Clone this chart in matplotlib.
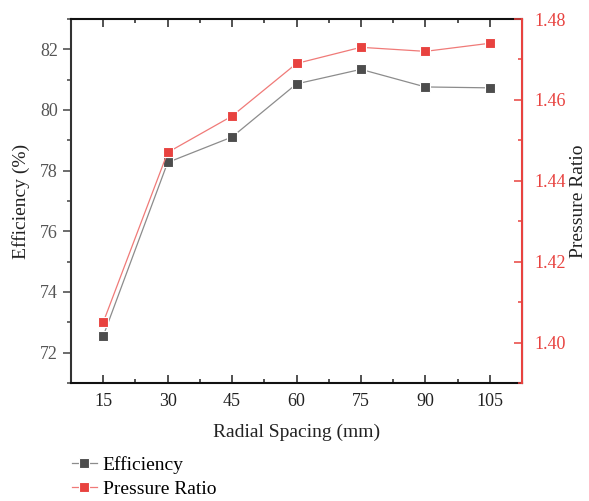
import matplotlib
matplotlib.use("Agg")
import matplotlib.pyplot as plt
from matplotlib.ticker import MultipleLocator

plt.rcParams['font.family'] = ['Liberation Serif', 'DejaVu Serif']

spacing = [15, 30, 45, 60, 75, 90, 105]
efficiency = [72.55, 78.27, 79.11, 80.86, 81.34, 80.76, 80.73]
pressure_ratio = [1.405, 1.447, 1.456, 1.469, 1.473, 1.472, 1.474]

x_ticks = [15, 30, 45, 60, 75, 90, 105]
eff_ticks = [72, 74, 76, 78, 80, 82]
pr_ticks = [1.40, 1.42, 1.44, 1.46, 1.48]

gray_m = '#4d4d4d'
gray_l = '#8c8c8c'
red_m = '#e8423f'
red_l = '#f07a78'

fig = plt.figure(figsize=(5.89, 5.01), dpi=100)
ax = fig.add_axes([71/589, 1 - 383/501, (522 - 71)/589, (383 - 19)/501])
ax2 = ax.twinx()

l1, = ax.plot(spacing, efficiency, color=gray_l, lw=0.9, marker='s', ms=7,
              mfc=gray_m, mec='white', mew=0.8, label='Efficiency', zorder=3)
l2, = ax2.plot(spacing, pressure_ratio, color=red_l, lw=0.9, marker='s', ms=7,
               mfc=red_m, mec='white', mew=0.8, label='Pressure Ratio', zorder=3)

ax.set_xlim(7.5, 112.5)
ax.set_ylim(71, 83)
ax2.set_ylim(1.39, 1.48)

ax.set_xticks(x_ticks)
ax.xaxis.set_minor_locator(MultipleLocator(7.5))
ax.set_yticks(eff_ticks)
ax.yaxis.set_minor_locator(MultipleLocator(1))
ax2.set_yticks(pr_ticks)
ax2.set_yticklabels([f'{v:.2f}' for v in pr_ticks])
ax2.yaxis.set_minor_locator(MultipleLocator(0.01))

ax.tick_params(axis='x', which='both', direction='in', top=True, colors='#222222',
               labelsize=13, pad=7)
ax.tick_params(axis='x', which='major', length=6, width=1.1)
ax.tick_params(axis='x', which='minor', length=3, width=1.1)
ax.tick_params(axis='y', which='both', direction='out', colors='#444444',
               labelcolor='#555555', labelsize=13)
ax.tick_params(axis='y', which='major', length=6, width=1.1)
ax.tick_params(axis='y', which='minor', length=3, width=1.1)
ax2.tick_params(axis='y', which='both', direction='in', colors=red_m,
                labelcolor=red_m, labelsize=13, pad=9)
ax2.tick_params(axis='y', which='major', length=6, width=1.1)
ax2.tick_params(axis='y', which='minor', length=3, width=1.1)

for s in ['top', 'bottom']:
    ax.spines[s].set_color('#111111')
    ax.spines[s].set_linewidth(1.5)
ax.spines['left'].set_color('#333333')
ax.spines['left'].set_linewidth(1.5)
ax2.spines['right'].set_color(red_m)
ax2.spines['right'].set_linewidth(1.5)
ax2.spines['left'].set_visible(False)
ax2.spines['top'].set_visible(False)
ax2.spines['bottom'].set_visible(False)

ax.set_xlabel('Radial Spacing (mm)', fontsize=14, color='#222222', labelpad=10)
ax.set_ylabel('Efficiency (%)', fontsize=14, color='#222222', labelpad=7)
ax2.set_ylabel('Pressure Ratio', fontsize=14, color='#222222', labelpad=3)

fig.legend(handles=[l1, l2], loc='upper left', bbox_to_anchor=(64/589, 1 - 448/501),
           frameon=False, fontsize=14, handlelength=1.3, handletextpad=0.3,
           labelspacing=0.35, borderaxespad=0)

fig.savefig('out.png', dpi=100)
